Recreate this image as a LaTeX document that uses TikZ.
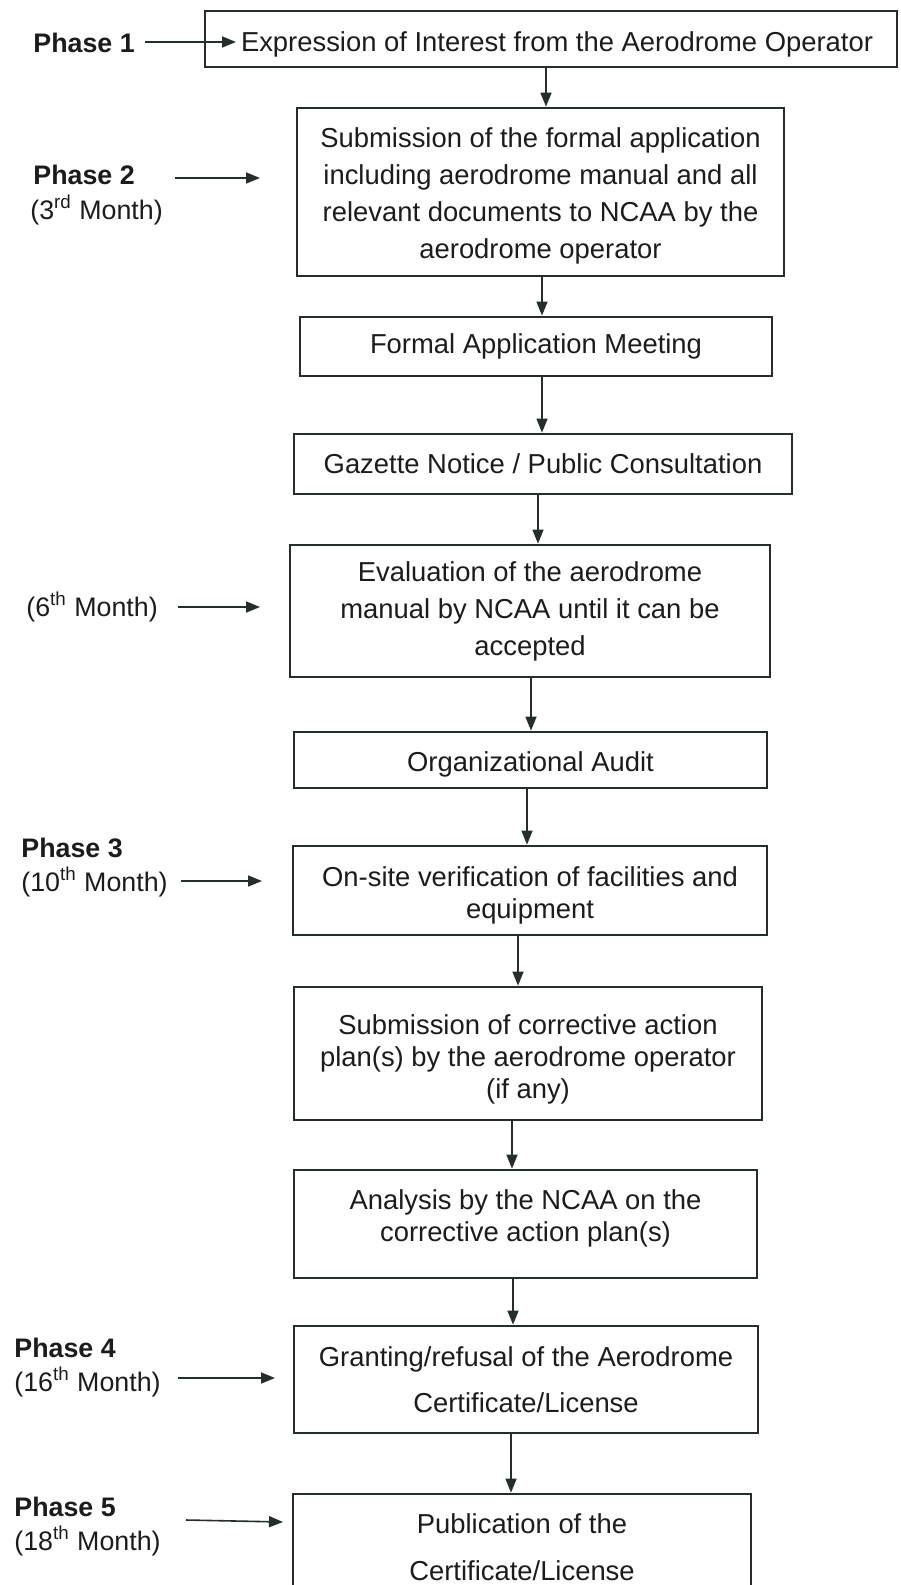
\documentclass[tikz,border=0pt]{standalone}
\usepackage{fontspec}
\setmainfont{Liberation Sans}
\usetikzlibrary{arrows.meta,calc}
\definecolor{ink}{RGB}{38,46,43}
\definecolor{txt}{RGB}{28,28,28}
\newcommand\toprule[1]{\rule{0pt}{#1}}
\begin{document}
\begin{tikzpicture}[x=0.5pt,y=-0.5pt,
  box/.style={draw=ink,line width=1.4pt,inner sep=0pt,align=center,text=txt,
    font=\fontsize{13.7pt}{16pt}\selectfont},
  wide/.style={font=\fontsize{13.7pt}{18.5pt}\selectfont},
  airy/.style={font=\fontsize{13.7pt}{23.2pt}\selectfont},
  arr/.style={draw=ink,line width=0.8pt,-{Triangle[length=7pt,width=5.5pt]}},
  phase/.style={anchor=west,inner sep=0pt,text=txt,font=\bfseries\fontsize{13.4pt}{16pt}\selectfont},
  month/.style={anchor=west,inner sep=0pt,text=txt,font=\fontsize{13.4pt}{16pt}\selectfont}]
\clip (0,0) rectangle (900,1585);
\fill[white] (0,0) rectangle (900,1585);

% boxes
\node[box,minimum width=346pt,minimum height=28pt] (b1) at (551,39)
  {\toprule{15pt}\hspace*{6pt}Expression of Interest from the Aerodrome Operator};
\node[box,wide,minimum width=243.5pt,minimum height=84pt] (b2) at (540.5,192)
  {\toprule{14pt}Submission of the formal application\\including aerodrome manual and all\\relevant documents to NCAA by the\\aerodrome operator};
\node[box,minimum width=236pt,minimum height=29.5pt] (b3) at (536,346.5)
  {Formal Application Meeting};
\node[box,minimum width=249pt,minimum height=30pt] (b4) at (543,464)
  {Gazette Notice / Public Consultation};
\node[box,wide,minimum width=240pt,minimum height=66pt] (b5) at (530,611)
  {Evaluation of the aerodrome\\manual by NCAA until it can be\\accepted};
\node[box,minimum width=236.5pt,minimum height=28pt] (b6) at (530.5,760)
  {\toprule{14pt}Organizational Audit};
\node[box,minimum width=237pt,minimum height=44.5pt] (b7) at (530,890.5)
  {\toprule{15pt}On-site verification of facilities and\\equipment};
\node[box,minimum width=234pt,minimum height=66.5pt] (b8) at (528,1053.5)
  {\toprule{16pt}Submission of corrective action\\plan(s) by the aerodrome operator\\(if any)};
\node[box,minimum width=231.5pt,minimum height=54pt] (b9) at (525.5,1224)
  {Analysis by the NCAA on the\\corrective action plan(s)\\[-8pt]\mbox{}};
\node[box,airy,minimum width=232pt,minimum height=53.5pt] (b10) at (526,1379.5)
  {Granting/refusal of the Aerodrome\\Certificate/License};
\node[box,airy,minimum width=229pt,minimum height=53pt] (b11) at (522,1547)
  {Publication of the\\Certificate/License};

% vertical connectors
\draw[arr] ([xshift=-2.5pt]b1.south) -- ([xshift=-2.5pt]b1.south |- b2.north);
\draw[arr] ([xshift=0.75pt]b2.south) -- ([xshift=0.75pt]b2.south |- b3.north);
\draw[arr] ([xshift=3pt]b3.south) -- ([xshift=3pt]b3.south |- b4.north);
\draw[arr] ([xshift=-2.5pt]b4.south) -- ([xshift=-2.5pt]b4.south |- b5.north);
\draw[arr] ([xshift=0.5pt]b5.south) -- ([xshift=0.5pt]b5.south |- b6.north);
\draw[arr] ([xshift=-1.75pt]b6.south) -- ([xshift=-1.75pt]b6.south |- b7.north);
\draw[arr] ([xshift=-6pt]b7.south) -- ([xshift=-6pt]b7.south |- b8.north);
\draw[arr] ([xshift=-8pt]b8.south) -- ([xshift=-8pt]b8.south |- b9.north);
\draw[arr] ([xshift=-6.25pt]b9.south) -- ([xshift=-6.25pt]b9.south |- b10.north);
\draw[arr] ([xshift=-7.5pt]b10.south) -- ([xshift=-7.5pt]b10.south |- b11.north);

% phase labels
\node[phase] (ph1) at (33,43) {Phase 1};
\node[phase] (ph2) at (33,175) {Phase 2};
\node[month] (mo2) at (30,210) {(3\textsuperscript{rd} Month)};
\node[month] (mo6) at (26,607) {(6\textsuperscript{th} Month)};
\node[phase] (ph3) at (21,848) {Phase 3};
\node[month] (mo3) at (21,882) {(10\textsuperscript{th} Month)};
\node[phase] (ph4) at (14,1348) {Phase 4};
\node[month] (mo4) at (14,1382) {(16\textsuperscript{th} Month)};
\node[phase] (ph5) at (14,1507) {Phase 5};
\node[month] (mo5) at (14,1541) {(18\textsuperscript{th} Month)};

% horizontal pointers
\coordinate (a1s) at (145,42);  \coordinate (a1e) at (236,42);
\coordinate (a2s) at (175,178); \coordinate (a2e) at (260,178);
\coordinate (a6s) at (178,607); \coordinate (a6e) at (260,607);
\coordinate (a3s) at (181,881); \coordinate (a3e) at (262,881);
\coordinate (a4s) at (178,1378); \coordinate (a4e) at (275,1378);
\coordinate (a5s) at (186,1520); \coordinate (a5e) at (283,1522);
\draw[arr] (a1s) -- (a1e);
\draw[arr] (a2s) -- (a2e);
\draw[arr] (a6s) -- (a6e);
\draw[arr] (a3s) -- (a3e);
\draw[arr] (a4s) -- (a4e);
\draw[arr] (a5s) -- (a5e);
\end{tikzpicture}
\end{document}
